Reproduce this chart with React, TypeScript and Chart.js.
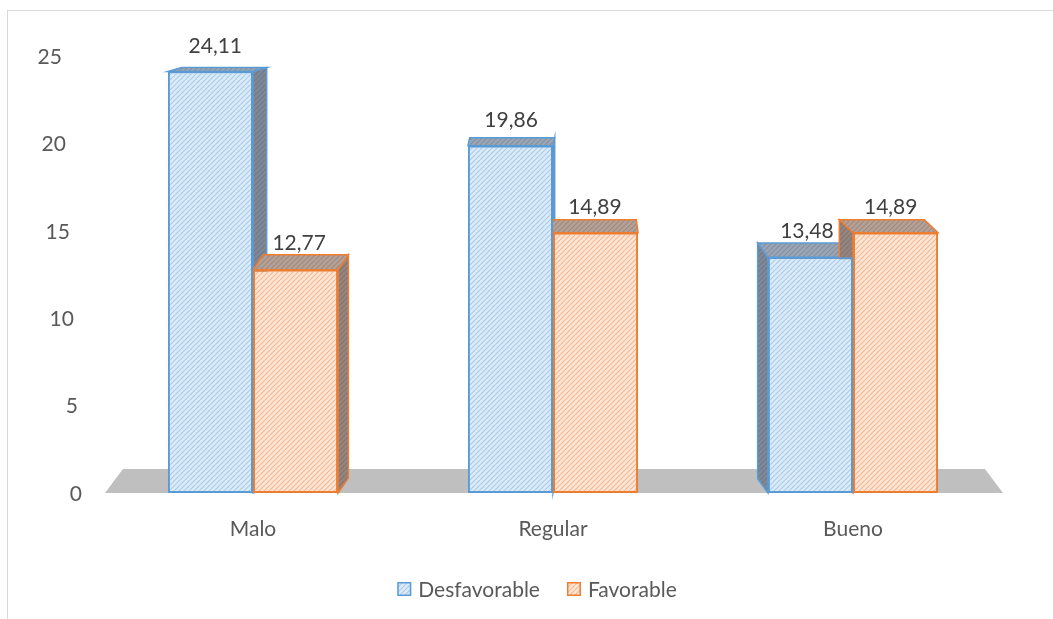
import React, { useEffect, useRef } from 'react';
import { Chart, registerables } from 'chart.js';

Chart.register(...registerables);

// Chart data
const categories = ['Malo', 'Regular', 'Bueno'];
const seriesNames = ['Desfavorable', 'Favorable'];
const desfavorable = [24.11, 19.86, 13.48];
const favorable = [12.77, 14.89, 14.89];
const yTicks = [0, 5, 10, 15, 20, 25];

const FONT = 'Lato, "Open Sans", sans-serif';
const TEXT = '#595959';
const LABEL = '#404040';

const blueBorder = '#5b9bd5';
const orangeBorder = '#ed7d31';

// Diagonal hatch fill ("/" stripes)
function hatch(bg: string, line: string): CanvasPattern {
  const c = document.createElement('canvas');
  c.width = 5;
  c.height = 5;
  const g = c.getContext('2d') as CanvasRenderingContext2D;
  g.fillStyle = bg;
  g.fillRect(0, 0, 5, 5);
  g.strokeStyle = line;
  g.lineWidth = 1.2;
  g.beginPath();
  for (const o of [-5, 0, 5]) {
    g.moveTo(o, 5);
    g.lineTo(o + 5, 0);
  }
  g.stroke();
  return g.createPattern(c, 'repeat') as CanvasPattern;
}

// Simple perspective: depth offset of a point depending on its position
const depthX = (chart: any, x: number) =>
  ((chart.chartArea.left + chart.chartArea.right) / 2 - x) * 0.04;
const depthY = (chart: any, top: number) =>
  -(4 + Math.max(0, top - chart.chartArea.top - 15) * 0.055);

const fmt = (v: number) => v.toFixed(2).replace('.', ',');

export default function App() {
  const ref = useRef<HTMLCanvasElement>(null);

  useEffect(() => {
    const canvas = ref.current;
    if (!canvas) return;

    const fills = [hatch('#dcebf8', '#a9cbe9'), hatch('#fde6d8', '#f5b88e')];
    const borders = [blueBorder, orangeBorder];

    const framePlugin = {
      id: 'frame',
      beforeDraw(chart: any) {
        const { ctx, width, height } = chart;
        ctx.save();
        ctx.fillStyle = '#ffffff';
        ctx.fillRect(0, 0, width, height);
        ctx.strokeStyle = '#d9d9d9';
        ctx.lineWidth = 1;
        ctx.strokeRect(7.5, 10.5, width + 20, height + 20);
        ctx.restore();
      },
    };

    // Floor and the top/side faces of each column, drawn behind the front faces
    const depthPlugin = {
      id: 'depth',
      beforeDatasetsDraw(chart: any) {
        const { ctx, chartArea } = chart;
        const yScale = chart.scales.y;
        const y0 = yScale.getPixelForValue(0);
        const lf = chartArea.left + 2;
        const rf = chartArea.right;
        const fd = -24;
        ctx.save();
        ctx.fillStyle = '#bfbfbf';
        ctx.beginPath();
        ctx.moveTo(lf, y0);
        ctx.lineTo(lf + depthX(chart, lf), y0 + fd);
        ctx.lineTo(rf + depthX(chart, rf), y0 + fd);
        ctx.lineTo(rf, y0);
        ctx.closePath();
        ctx.fill();

        chart.data.datasets.forEach((ds: any, di: number) => {
          const meta = chart.getDatasetMeta(di);
          meta.data.forEach((el: any) => {
            const { x, y, base, width } = el.getProps(['x', 'y', 'base', 'width'], true);
            const left = x - width / 2;
            const right = x + width / 2;
            const dx = depthX(chart, x);
            const dy = depthY(chart, y);
            const edge = dx >= 0 ? right : left;
            const faces = [
              // side face
              {
                pts: [[edge, y], [edge + dx, y + dy], [edge + dx, base + dy], [edge, base]],
                shade: 'rgba(55,55,65,0.55)',
              },
              // top face
              {
                pts: [[left, y], [left + dx, y + dy], [right + dx, y + dy], [right, y]],
                shade: 'rgba(60,60,70,0.4)',
              },
            ];
            faces.forEach((f) => {
              ctx.beginPath();
              f.pts.forEach((p, i) => (i ? ctx.lineTo(p[0], p[1]) : ctx.moveTo(p[0], p[1])));
              ctx.closePath();
              ctx.fillStyle = fills[di];
              ctx.fill();
              ctx.fillStyle = f.shade;
              ctx.fill();
              ctx.strokeStyle = borders[di];
              ctx.lineWidth = 1.5;
              ctx.stroke();
            });
          });
        });
        ctx.restore();
      },
    };

    const labelPlugin = {
      id: 'valueLabels',
      afterDatasetsDraw(chart: any) {
        const { ctx } = chart;
        ctx.save();
        ctx.font = `21px ${FONT}`;
        ctx.fillStyle = LABEL;
        ctx.textAlign = 'center';
        ctx.textBaseline = 'alphabetic';
        chart.data.datasets.forEach((ds: any, di: number) => {
          const meta = chart.getDatasetMeta(di);
          meta.data.forEach((el: any, i: number) => {
            const { x, y } = el.getProps(['x', 'y'], true);
            const dx = depthX(chart, x);
            const dy = depthY(chart, y);
            const ty = Math.min(y - 19, y + dy - 5);
            ctx.fillText(fmt(ds.data[i]), x + dx * 0.35, ty);
          });
        });
        ctx.restore();
      },
    };

    const axisLegendPlugin = {
      id: 'axisLegend',
      afterDraw(chart: any) {
        const { ctx, chartArea, width } = chart;
        const yScale = chart.scales.y;
        ctx.save();
        ctx.font = `21px ${FONT}`;
        ctx.fillStyle = TEXT;
        ctx.textAlign = 'right';
        ctx.textBaseline = 'middle';
        yTicks.forEach((v) => {
          const py = yScale.getPixelForValue(v);
          const rx = chartArea.left - 21 - (chartArea.bottom - py) * 0.046;
          ctx.fillText(String(v), rx, py + 1);
        });

        // legend
        ctx.textAlign = 'left';
        const box = 14;
        const gapBox = 7;
        const gapItem = 27;
        const widths = seriesNames.map((n) => ctx.measureText(n).width);
        const total = widths.reduce((a, w) => a + box + gapBox + w, 0) + gapItem;
        let lx = (width + 27) / 2 - total / 2 - 3;
        const ly = 589;
        seriesNames.forEach((n, i) => {
          ctx.fillStyle = fills[i];
          ctx.fillRect(lx, ly - box / 2, box, box);
          ctx.strokeStyle = borders[i];
          ctx.lineWidth = 1.5;
          ctx.strokeRect(lx + 0.75, ly - box / 2 + 0.75, box - 1.5, box - 1.5);
          ctx.fillStyle = TEXT;
          ctx.fillText(n, lx + box + gapBox, ly + 1);
          lx += box + gapBox + widths[i] + gapItem;
        });
        ctx.restore();
      },
    };

    const chart = new Chart(canvas, {
      type: 'bar',
      data: {
        labels: categories,
        datasets: [
          {
            label: seriesNames[0],
            data: desfavorable,
            backgroundColor: fills[0],
            borderColor: blueBorder,
            borderWidth: 2,
            borderSkipped: false,
            categoryPercentage: 0.567,
            barPercentage: 1,
          },
          {
            label: seriesNames[1],
            data: favorable,
            backgroundColor: fills[1],
            borderColor: orangeBorder,
            borderWidth: 2,
            borderSkipped: false,
            categoryPercentage: 0.567,
            barPercentage: 1,
          },
        ],
      },
      options: {
        responsive: false,
        animation: false,
        layout: { padding: { left: 8, top: 56, right: 50, bottom: 0 } },
        plugins: {
          legend: { display: false },
          tooltip: { enabled: false },
        },
        scales: {
          x: {
            grid: { display: false },
            border: { display: false },
            ticks: {
              color: TEXT,
              font: { family: FONT, size: 21 },
              padding: 16,
            },
            afterFit(scale: any) {
              scale.height = 126;
            },
          },
          y: {
            min: 0,
            max: 25,
            grid: { display: false },
            border: { display: false },
            ticks: { display: false, stepSize: 5 },
            afterFit(scale: any) {
              scale.width = 95;
            },
          },
        },
      },
      plugins: [framePlugin, depthPlugin, labelPlugin, axisLegendPlugin],
    });

    return () => chart.destroy();
  }, []);

  return (
    <div style={{ position: 'fixed', left: 0, top: 0, width: 1053, height: 619, background: '#fff' }}>
      <canvas ref={ref} width={1053} height={619} style={{ display: 'block' }} />
    </div>
  );
}
